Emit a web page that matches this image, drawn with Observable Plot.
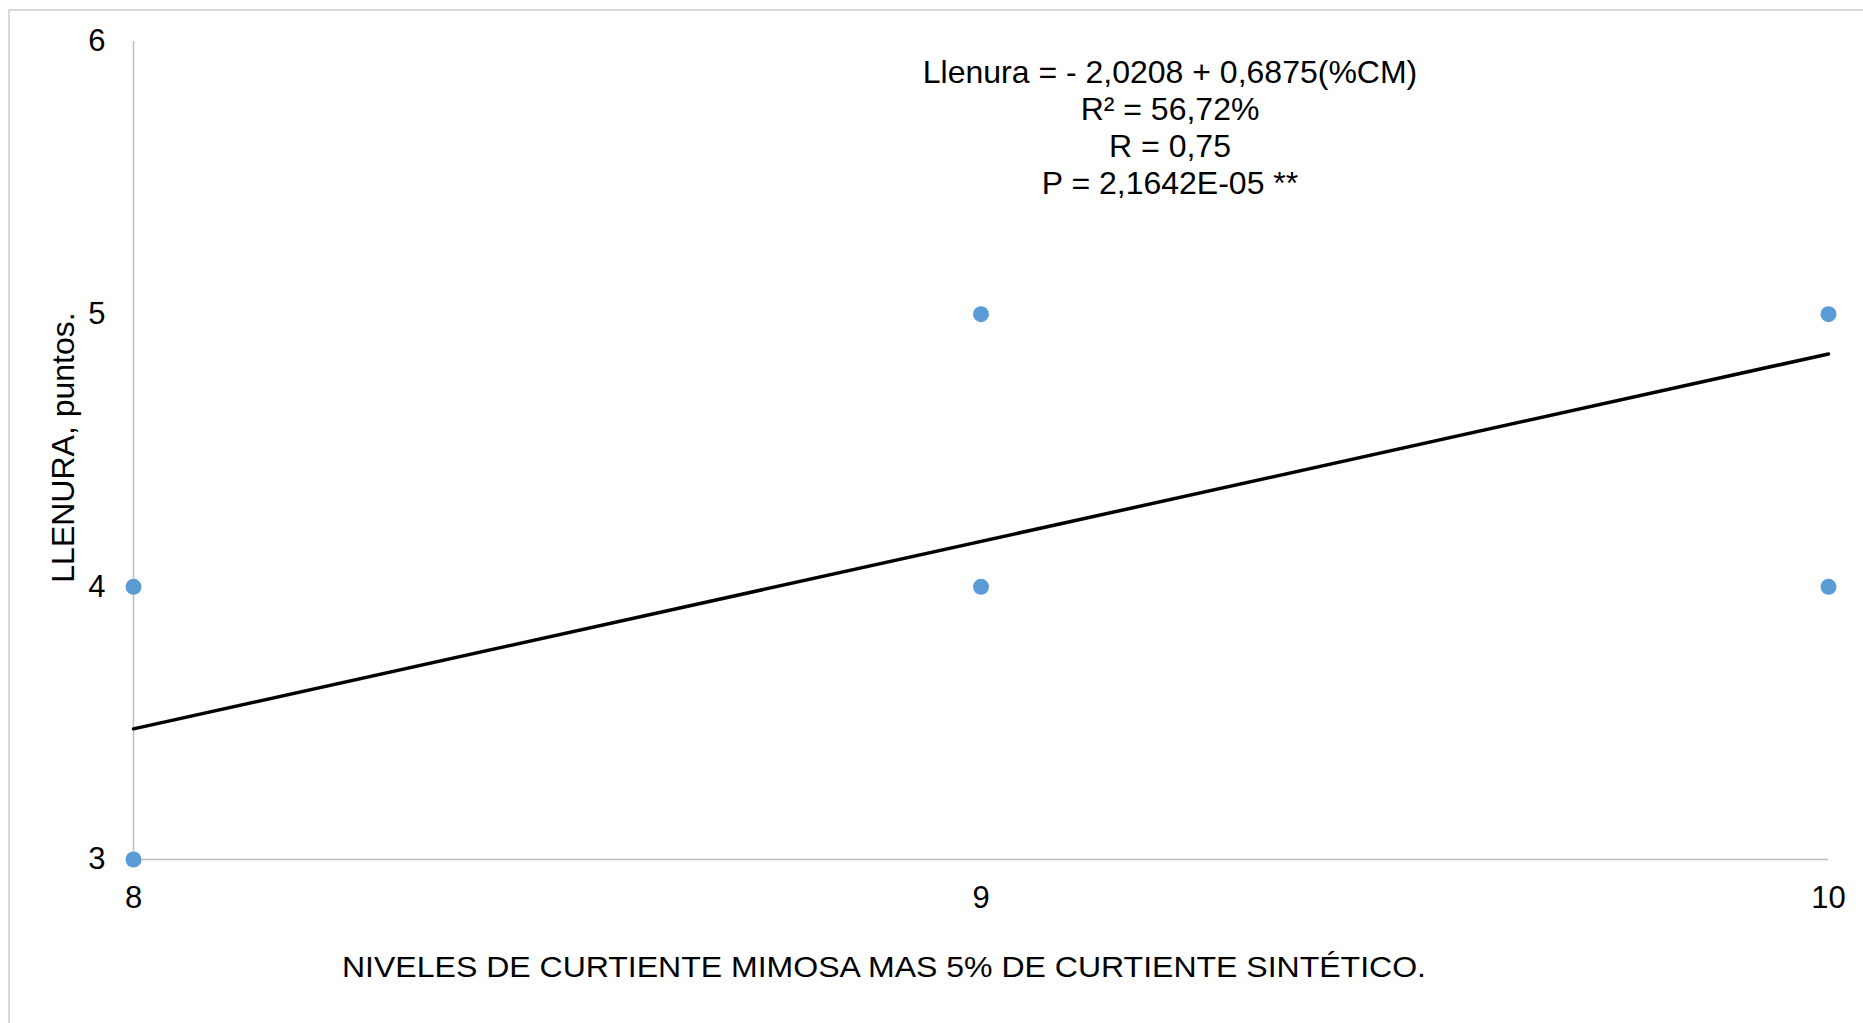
<!DOCTYPE html>
<html>
<head>
<meta charset="utf-8">
<script src="https://cdn.jsdelivr.net/npm/d3@7"></script>
<script src="https://cdn.jsdelivr.net/npm/@observablehq/plot@0.6"></script>
<style>
  html, body { margin: 0; padding: 0; background: #fff; }
  #wrap { position: relative; width: 1863px; height: 1023px; overflow: hidden; }
  #frame { position: absolute; left: 8px; top: 9px; width: 2000px; height: 2000px; border: 2px solid #d9d9d9; box-sizing: border-box; }
  #chart { position: absolute; left: 0; top: 0; }
</style>
</head>
<body>
<div id="wrap"><div id="frame"></div><div id="chart"></div></div>
<script>
// Data
const niveles = [8, 8, 9, 9, 10, 10];
const llenura = [3, 4, 4, 5, 4, 5];
const xTicks = [8, 9, 10];
const yTicks = [3, 4, 5, 6];
// Trend line from the printed equation
const intercept = -2.0208;
const slope = 0.6875;
const trendX = [8, 10];
const equationLines = ["Llenura = - 2,0208 + 0,6875(%CM)", "R² = 56,72%", "R = 0,75", "P = 2,1642E-05 **"];
const xTitle = "NIVELES DE CURTIENTE MIMOSA MAS 5% DE CURTIENTE SINTÉTICO.";
const yTitle = "LLENURA, puntos.";

const points = niveles.map((x, i) => ({x, y: llenura[i]}));
const trend = trendX.map(x => ({x, y: intercept + slope * x}));

const font = "Liberation Sans, Arial, sans-serif";

const chart = Plot.plot({
  width: 1863,
  height: 1023,
  marginLeft: 133,
  marginRight: 35,
  marginTop: 41,
  marginBottom: 164,
  style: {fontFamily: font, fontSize: "31px", color: "#000", background: "transparent"},
  x: {domain: [8, 10], ticks: xTicks, tickSize: 0, tickPadding: 26, label: null, tickFormat: d => String(d)},
  y: {domain: [3, 6], ticks: yTicks, tickSize: 0, tickPadding: 28, label: null, tickFormat: d => String(d)},
  marks: [
    Plot.ruleY([3], {stroke: "#bfbfbf", strokeWidth: 1.5}),
    Plot.ruleX([8], {stroke: "#bfbfbf", strokeWidth: 1.5}),
    Plot.line(trend, {x: "x", y: "y", stroke: "#000", strokeWidth: 3.5}),
    Plot.dot(points, {x: "x", y: "y", r: 8, fill: "#5b9bd5", stroke: "none"}),
    Plot.text([equationLines.join("\n")], {frameAnchor: "top", lineAnchor: "top", dx: 189, dy: 15, lineHeight: 1.156, fontSize: 32, fill: "#000"}),
    Plot.text([xTitle], {frameAnchor: "bottom", lineAnchor: "middle", dx: -97, dy: 108, fontSize: 30, fill: "#000", className: "xtitle"}),
    Plot.text([yTitle], {frameAnchor: "left", rotate: -90, textAnchor: "middle", lineAnchor: "middle", dx: -70, dy: -3, fontSize: 32, fill: "#000"})
  ]
});
document.getElementById("chart").appendChild(chart);
const xt = chart.querySelector(".xtitle text");
if (xt) { xt.setAttribute("textLength", 1084); xt.setAttribute("lengthAdjust", "spacingAndGlyphs"); }
</script>
</body>
</html>
